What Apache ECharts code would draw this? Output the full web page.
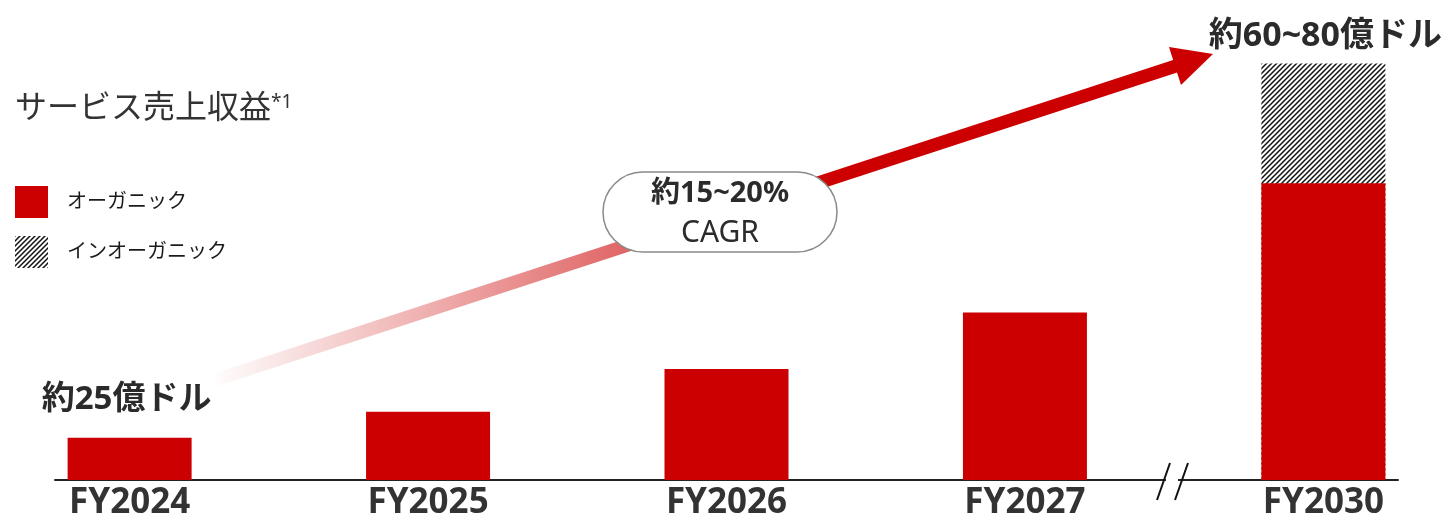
<!DOCTYPE html>
<html>
    <head>
        <meta charset=utf-8>
        <style>
            html, body { margin: 0; padding: 0; background: #fff; }
        </style>
    </head>
    <body>
        <div id="chart" style="width:1450px;height:520px"></div>
        <script src="https://cdn.jsdelivr.net/npm/echarts@6/dist/echarts.min.js"></script>
        <script type="text/javascript">

            var myChart = echarts.init(document.querySelector('#chart'));

            let categories = ['FY2024', 'FY2025', 'FY2026', 'FY2027', 'FY2030']
            let organic = [25, 40.4, 65.6, 99, 175.4]
            let inorganic = [0, 0, 0, 0, 70.8]
            let labelStart = '約25億ドル'
            let labelEnd = '約60~80億ドル'
            let cagrLabel = '約15~20%'

            let FONT = "'Noto Sans', 'Noto Sans CJK JP', sans-serif"
            let RED = '#cc0000'

            // 斜線ハッチ
            function hatch() {
                let c = document.createElement('canvas')
                let p = 5
                c.width = p; c.height = p
                let ctx = c.getContext('2d')
                ctx.fillStyle = '#fff'
                ctx.fillRect(0, 0, p, p)
                ctx.strokeStyle = '#111'
                ctx.lineWidth = 1.5
                ctx.beginPath()
                ctx.moveTo(0, p); ctx.lineTo(p, 0)
                ctx.moveTo(-1, 1); ctx.lineTo(1, -1)
                ctx.moveTo(p - 1, p + 1); ctx.lineTo(p + 1, p - 1)
                ctx.stroke()
                return { image: c, repeat: 'repeat' }
            }

            // インオーガニックはオーガニックの上に積む（合計の高さで下に描く）
            let totals = organic.map(function (v, i) { return v + inorganic[i] })

            let option = {
            animation: false,
            textStyle: { fontFamily: FONT },
            title: {
                left: 10,
                top: 88,
                padding: 5,
                text: '{a|サービス売上収益}{b|*1}',
                textStyle: {
                    rich: {
                        a: { fontSize: 32, fontWeight: 'normal', color: '#333', fontFamily: FONT },
                        b: { fontSize: 19, fontWeight: 'normal', color: '#333', fontFamily: FONT, verticalAlign: 'top', padding: [0, 0, 12, 0] }
                    }
                }
            },
            legend: {
                orient: 'vertical',
                left: 15,
                top: 186,
                padding: 0,
                icon: 'rect',
                itemWidth: 33,
                itemHeight: 32,
                itemGap: 18,
                selectedMode: false,
                textStyle: { fontSize: 20, color: '#1a1a1a', fontFamily: FONT, padding: [0, 0, 0, 14] },
                data: ['オーガニック', 'インオーガニック']
            },
            grid: {
                left: 55,
                right: 52,
                top: 57,
                bottom: 40,
                outerBoundsMode: 'none'
            },
            xAxis: {
                type: 'value',
                min: -0.25,
                max: 4.25,
                splitLine: { show: false },
                axisTick: { show: false },
                axisLine: { show: true, lineStyle: { color: '#222', width: 2 } },
                axisLabel: {
                    customValues: [0, 1, 2, 3, 4],
                    margin: 6,
                    fontSize: 35,
                    fontWeight: 'bold',
                    color: '#333',
                    fontFamily: FONT,
                    formatter: function (v) { return categories[v] || '' }
                }
            },
            yAxis: {
                type: 'value',
                min: 0,
                max: 250,
                show: false
            },
            series: [
            {
                name: 'インオーガニック',
                type: 'bar',
                z: 2,
                barWidth: 124,
                barGap: '-100%',
                itemStyle: { color: hatch() },
                data: totals.map(function (v, i) {
                    if (!inorganic[i]) return [i, '-']
                    return {
                        value: [i, v],
                        label: {
                            show: true, position: 'top', distance: 10, offset: [2, 0],
                            formatter: labelEnd, fontSize: 34, fontWeight: 'bold', color: '#2b2b2b', fontFamily: FONT
                        }
                    }
                })
            },
            {
                name: 'オーガニック',
                type: 'bar',
                z: 3,
                barWidth: 124,
                barGap: '-100%',
                itemStyle: { color: RED },
                data: organic.map(function (v, i) {
                    if (i === 0) {
                        return {
                            value: [i, v],
                            label: {
                                show: true, position: 'top', distance: 22, offset: [-3, 0],
                                formatter: labelStart, fontSize: 33, fontWeight: 'bold', color: '#2b2b2b', fontFamily: FONT
                            }
                        }
                    }
                    return [i, v]
                })
            }
            ],
            graphic: [
                // 成長矢印
                {
                    type: 'line',
                    z: 50,
                    shape: { x1: 215, y1: 380, x2: 1182, y2: 64 },
                    style: {
                        lineWidth: 13,
                        stroke: new echarts.graphic.LinearGradient(0, 0, 1, 0, [
                            { offset: 0, color: 'rgba(204,0,0,0)' },
                            { offset: 0.44, color: 'rgba(204,0,0,0.62)' },
                            { offset: 0.64, color: 'rgba(204,0,0,1)' },
                            { offset: 1, color: RED }
                        ])
                    }
                },
                {
                    type: 'polygon',
                    z: 51,
                    shape: { points: [[1213, 54], [1169, 47], [1181, 85]] },
                    style: { fill: RED }
                },
                // CAGR 吹き出し
                {
                    type: 'rect',
                    z: 60,
                    shape: { x: 603, y: 172, width: 234, height: 80, r: 40 },
                    style: { fill: '#fff', stroke: '#8a8a8a', lineWidth: 1.5 }
                },
                {
                    type: 'text',
                    z: 61,
                    x: 720, y: 194,
                    style: { text: cagrLabel, fontSize: 29, fontWeight: 'bold', fill: '#2b2b2b', align: 'center', verticalAlign: 'middle', fontFamily: FONT }
                },
                {
                    type: 'text',
                    z: 61,
                    x: 720, y: 233,
                    style: { text: 'CAGR', fontSize: 30, fill: '#2b2b2b', align: 'center', verticalAlign: 'middle', fontFamily: FONT }
                },
                // 軸の省略記号
                {
                    type: 'rect',
                    z: 70,
                    shape: { x: 1166, y: 476, width: 12, height: 9 },
                    style: { fill: '#fff' }
                },
                {
                    type: 'line',
                    z: 71,
                    shape: { x1: 1157, y1: 500, x2: 1170, y2: 463 },
                    style: { stroke: '#111', lineWidth: 2 }
                },
                {
                    type: 'line',
                    z: 71,
                    shape: { x1: 1175, y1: 500, x2: 1188, y2: 463 },
                    style: { stroke: '#111', lineWidth: 2 }
                }
            ]
            }
            myChart.setOption(option);
        </script>
    </body>
</html>
